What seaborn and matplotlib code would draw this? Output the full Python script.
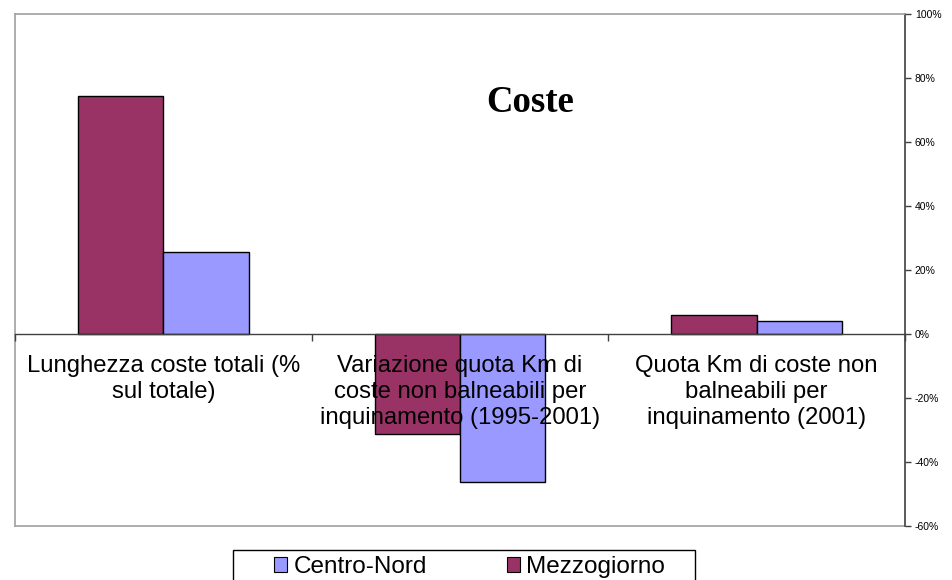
import matplotlib
matplotlib.use("Agg")
import matplotlib.pyplot as plt
import matplotlib.ticker as mticker
from matplotlib.patches import Patch, Rectangle
import seaborn as sns
import pandas as pd

categories = [
    "Lunghezza coste totali (%\nsul totale)",
    "Variazione quota Km di\ncoste non balneabili per\ninquinamento (1995-2001)",
    "Quota Km di coste non\nbalneabili per\ninquinamento (2001)",
]
mezzogiorno = [74.4, -31.3, 5.9]
centro_nord = [25.6, -46.3, 4.0]
series = ["Mezzogiorno", "Centro-Nord"]
colors = {"Mezzogiorno": "#993366", "Centro-Nord": "#9999FF"}
y_ticks = [-60, -40, -20, 0, 20, 40, 60, 80, 100]

df = pd.DataFrame({
    "categoria": categories * 2,
    "serie": ["Mezzogiorno"] * 3 + ["Centro-Nord"] * 3,
    "valore": mezzogiorno + centro_nord,
})

sns.set_style("white")
plt.rcParams["font.family"] = ["Liberation Sans", "DejaVu Sans"]
plt.rcParams["text.color"] = "black"

fig = plt.figure(figsize=(9.52, 5.8), dpi=100)
ax = fig.add_axes([15 / 952, 1 - 526 / 580, 890 / 952, 512 / 580])

sns.barplot(data=df, x="categoria", y="valore", hue="serie", hue_order=series,
            order=categories, palette=colors, width=0.575, edgecolor="black",
            linewidth=1, saturation=1, legend=False, ax=ax)

ax.set_ylim(-60, 100)
ax.set_xlim(-0.5, 2.5)
ax.set_xlabel("")
ax.set_ylabel("")
ax.set_axisbelow(False)  # category labels are written over the bars

# y axis on the right
ax.yaxis.tick_right()
ax.set_yticks(y_ticks)
ax.yaxis.set_major_formatter(mticker.FuncFormatter(lambda v, p: f"{v:.0f}%"))
ax.tick_params(axis="y", direction="out", length=4, width=1, color="#404040",
               labelcolor="black", labelsize=7.5, pad=3, right=True, left=False)

# category axis sits on the zero line
ax.spines["bottom"].set_position(("data", 0))
ax.spines["bottom"].set_color("#404040")
ax.spines["bottom"].set_linewidth(1)
ax.set_xticks([-0.5, 0.5, 1.5, 2.5], minor=True)
ax.tick_params(axis="x", which="minor", direction="out", length=5, width=1,
               color="#404040", bottom=True)
ax.tick_params(axis="x", which="major", length=0, labelsize=17.2, pad=15,
               labelcolor="black")
for lbl in ax.get_xticklabels():
    lbl.set_linespacing(1.25)

ax.axhline(-60, color="#a0a0a0", lw=1.2, clip_on=False)
for s in ["top", "left"]:
    ax.spines[s].set_color("#a0a0a0")
    ax.spines[s].set_linewidth(1.2)
ax.spines["right"].set_color("#404040")
ax.spines["right"].set_linewidth(1.2)

fig.text(530 / 952, 1 - 102 / 580, "Coste", ha="center", va="center",
         family="Liberation Serif", fontweight="bold", fontsize=26.5)

# legend, with its box drawn separately (wider than the entries)
handles = [Patch(facecolor=colors["Centro-Nord"], edgecolor="black", lw=0.8),
           Patch(facecolor=colors["Mezzogiorno"], edgecolor="black", lw=0.8)]
fig.legend(handles, ["Centro-Nord", "Mezzogiorno"], ncol=2,
           loc="upper left", bbox_to_anchor=(274 / 952, 1 - 556 / 580),
           fontsize=17.5, frameon=False,
           handlelength=0.55, handleheight=0.55, handletextpad=0.25,
           columnspacing=3.3, borderpad=0, borderaxespad=0)
fig.patches.append(Rectangle((233 / 952, -0.05), 462 / 952, 0.05 + 30 / 580,
                             transform=fig.transFigure, fill=False,
                             edgecolor="black", lw=1))

fig.savefig("out.png", dpi=100)
